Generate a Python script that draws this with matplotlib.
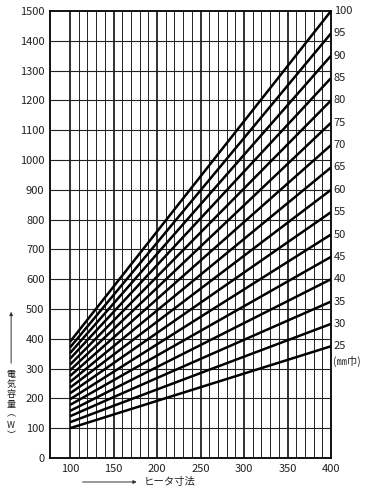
import numpy as np
import matplotlib
matplotlib.use("Agg")
import matplotlib.pyplot as plt

plt.rcParams['font.family'] = ['Liberation Sans Narrow', 'Noto Sans CJK JP', 'DejaVu Sans']

# heater width (mm) for each line
widths = [25, 30, 35, 40, 45, 50, 55, 60, 65, 70, 75, 80, 85, 90, 95, 100]
# watts at heater size 100 and 400
w_at_100 = [100, 120, 140, 158, 178, 197, 217, 236, 255, 275, 294, 313, 333, 352, 371, 390]
w_at_400 = [375, 450, 525, 600, 675, 750, 825, 900, 975, 1050, 1125, 1200, 1275, 1350, 1425, 1500]
size_x = [100, 400]

xticks = [100, 150, 200, 250, 300, 350, 400]
yticks = list(range(0, 1600, 100))

jp = ['Noto Sans CJK JP', 'DejaVu Sans']

fig = plt.figure(figsize=(3.71, 5.0), dpi=100)
ax = fig.add_axes([0.1348, 0.084, 0.7574, 0.894])
ax.set_xlim(77, 400)
ax.set_ylim(0, 1500)

# grid
for gx in range(100, 400, 10):
    lw = 1.3 if gx % 50 == 0 else 0.7
    ax.axvline(gx, color='#222222', lw=lw, zorder=1)
for gy in range(100, 1500, 100):
    ax.axhline(gy, color='#222222', lw=0.8, zorder=1)

for w, y0, y1 in zip(widths, w_at_100, w_at_400):
    ax.plot(size_x, [y0, y1], color='black', lw=1.8, solid_capstyle='butt', zorder=3)
    ax.text(403, y1, str(w), fontsize=8, ha='left', va='center', color='#222222')
ax.text(402, w_at_400[0] - 50, '(㎜巾)', fontsize=7.5, ha='left', va='center',
        color='#222222', family=jp)

for s in ax.spines.values():
    s.set_linewidth(1.3)
ax.set_xticks(xticks)
ax.set_yticks(yticks)
ax.tick_params(length=0, labelsize=8, colors='#222222', pad=4)

# x axis title
ax.annotate('', xy=(0.376, 0.036), xytext=(0.215, 0.036), xycoords='figure fraction',
            arrowprops=dict(arrowstyle='-|>', color='#333333', lw=0.7, mutation_scale=5))
fig.text(0.386, 0.036, 'ヒータ寸法', fontsize=7.5, ha='left', va='center',
         family=jp, color='#222222')

# y axis title, stacked vertically
ax.annotate('', xy=(0.03, 0.382), xytext=(0.03, 0.268), xycoords='figure fraction',
            arrowprops=dict(arrowstyle='-|>', color='#333333', lw=0.7, mutation_scale=5))
ylab_chars = ['電', '気', '容', '量', '︵', 'W', '︶']
ylab_pos = [374, 384, 394, 404, 414, 425, 436]
for ch, py in zip(ylab_chars, ylab_pos):
    fig.text(0.03, 1 - py / 500, ch, fontsize=6.5, ha='center', va='center',
             family=jp, color='#222222')

fig.savefig('out.png', dpi=100)
